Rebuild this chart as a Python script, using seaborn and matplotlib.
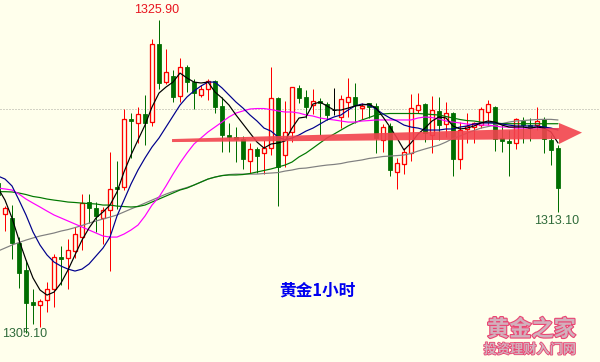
import numpy as np
import pandas as pd
import matplotlib
matplotlib.use("Agg")
import matplotlib.pyplot as plt
import matplotlib.patheffects as pe
from matplotlib.patches import Polygon
import seaborn as sns

# ---------------- data ----------------
bar_index = list(range(-1, 80))
opens = [1315.06, 1312.97, 1312.71, 1311.04, 1309.27, 1307.12, 1306.92, 1307.27, 1307.98, 1310.11,
         1310.08, 1310.51, 1311.48, 1313.77, 1313.37, 1312.71, 1313.26, 1314.81, 1314.77, 1319.29,
         1319.07, 1319.63, 1319.09, 1324.30, 1321.77, 1322.17, 1320.86, 1322.79, 1321.80, 1320.91,
         1321.34, 1321.84, 1320.18, 1318.25, 1318.10, 1317.96, 1316.54, 1317.30, 1317.03, 1317.36,
         1320.69, 1316.92, 1318.47, 1321.36, 1320.76, 1320.24, 1320.53, 1320.31, 1319.91, 1319.43,
         1320.46, 1320.76, 1320.03, 1320.36, 1320.21, 1317.92, 1318.85, 1315.81, 1316.31, 1317.07,
         1319.91, 1320.31, 1318.25, 1319.85, 1318.96, 1319.73, 1316.63, 1318.67, 1318.76, 1318.91,
         1319.80, 1320.13, 1318.02, 1317.85, 1317.74, 1319.20, 1318.91, 1318.91, 1319.29, 1317.92,
         1317.36]
closes = [1314.26, 1313.37, 1311.04, 1309.09, 1307.05, 1306.96, 1307.18, 1308.00, 1310.11, 1310.00,
          1310.60, 1311.66, 1313.70, 1313.37, 1312.88, 1313.26, 1314.64, 1314.66, 1319.29, 1319.18,
          1319.63, 1319.07, 1324.30, 1321.69, 1322.42, 1320.80, 1322.79, 1321.80, 1321.02, 1321.29,
          1321.81, 1320.13, 1318.25, 1318.10, 1318.00, 1316.63, 1317.30, 1316.85, 1317.36, 1320.69,
          1316.14, 1318.47, 1321.42, 1320.69, 1320.13, 1320.51, 1320.36, 1319.58, 1319.91, 1320.62,
          1320.76, 1320.24, 1320.18, 1320.13, 1318.05, 1318.76, 1315.89, 1316.37, 1317.14, 1320.03,
          1320.24, 1318.36, 1319.91, 1318.91, 1319.69, 1316.63, 1318.58, 1318.85, 1319.03, 1319.96,
          1320.31, 1317.96, 1317.87, 1317.74, 1319.29, 1318.91, 1318.71, 1319.18, 1317.96, 1317.25,
          1314.74]
highs = [1315.25, 1313.52, 1313.59, 1311.48, 1309.93, 1307.98, 1307.32, 1308.45, 1310.33, 1310.86,
         1311.31, 1312.11, 1314.30, 1314.32, 1313.81, 1313.48, 1317.10, 1316.52, 1319.96, 1319.69,
         1320.13, 1320.91, 1324.62, 1325.90, 1323.95, 1322.57, 1323.35, 1322.91, 1321.97, 1321.58,
         1321.95, 1321.91, 1320.80, 1319.03, 1318.80, 1318.18, 1317.70, 1317.43, 1317.92, 1322.79,
         1320.80, 1320.53, 1321.46, 1321.58, 1321.24, 1321.29, 1320.69, 1320.46, 1321.36, 1320.91,
         1322.02, 1321.69, 1320.40, 1320.40, 1320.36, 1318.98, 1319.03, 1316.70, 1317.40, 1320.98,
         1321.02, 1320.36, 1320.84, 1320.80, 1320.42, 1319.80, 1319.13, 1319.69, 1319.13, 1320.09,
         1320.58, 1320.18, 1318.91, 1318.58, 1319.40, 1319.47, 1319.36, 1320.13, 1319.43, 1318.25,
         1317.58]
lows = [1313.92, 1311.88, 1309.98, 1308.05, 1305.10, 1305.67, 1305.45, 1306.49, 1306.83, 1308.27,
        1307.98, 1310.05, 1310.60, 1312.37, 1311.82, 1311.03, 1309.23, 1313.31, 1314.59, 1316.74,
        1317.74, 1317.58, 1318.87, 1321.29, 1321.64, 1320.46, 1320.46, 1321.13, 1319.96, 1320.76,
        1320.58, 1319.73, 1317.14, 1317.14, 1316.47, 1315.97, 1315.70, 1315.70, 1315.65, 1316.92,
        1313.55, 1316.14, 1317.80, 1320.40, 1319.36, 1319.63, 1318.25, 1319.25, 1319.58, 1318.69,
        1319.47, 1319.03, 1319.29, 1319.36, 1317.07, 1317.14, 1315.55, 1314.64, 1315.67, 1316.52,
        1319.69, 1317.80, 1317.03, 1317.92, 1318.14, 1315.52, 1315.97, 1317.70, 1317.70, 1318.69,
        1318.91, 1317.18, 1317.15, 1315.52, 1317.30, 1317.70, 1317.87, 1318.58, 1317.07, 1316.25,
        1313.10]

ma_black = [1314.72, 1313.92, 1312.73, 1311.26, 1309.93, 1308.74, 1307.94, 1307.60, 1307.80, 1308.40,
            1309.27, 1310.27, 1311.26, 1312.06, 1312.73, 1313.13, 1313.59, 1314.46, 1315.79, 1316.92,
            1317.92, 1318.91, 1320.11, 1321.04, 1321.44, 1321.77, 1322.37, 1322.04, 1321.77, 1321.71,
            1321.77, 1321.11, 1320.71, 1320.24, 1319.58, 1318.98, 1318.38, 1317.78, 1317.38, 1317.65,
            1317.72, 1317.85, 1318.71, 1319.38, 1319.45, 1320.31, 1320.44, 1320.18, 1319.91, 1319.91,
            1320.04, 1320.18, 1320.24, 1320.31, 1320.04, 1319.45, 1318.78, 1318.05, 1317.25, 1317.72,
            1318.31, 1318.71, 1319.18, 1319.45, 1319.38, 1318.85, 1318.65, 1318.71, 1318.85, 1319.05,
            1319.18, 1319.11, 1318.91, 1318.78, 1318.78, 1318.78, 1318.71, 1318.78, 1318.71, 1318.45,
            1317.72]
ma_blue = [1315.52, 1315.32, 1314.86, 1313.92, 1312.93, 1311.80, 1310.93, 1310.27, 1309.80, 1309.53,
           1309.33, 1309.20, 1309.33, 1309.67, 1310.20, 1310.73, 1311.46, 1312.86, 1313.92, 1314.99,
           1315.92, 1316.72, 1317.45, 1318.05, 1318.78, 1319.51, 1320.24, 1320.78, 1321.18, 1321.51,
           1321.77, 1321.77, 1321.38, 1320.91, 1320.44, 1320.04, 1319.58, 1319.18, 1318.71, 1318.51,
           1318.12, 1317.92, 1318.05, 1318.25, 1318.51, 1318.71, 1318.98, 1319.25, 1319.45, 1319.58,
           1319.91, 1320.18, 1320.31, 1320.24, 1319.98, 1319.65, 1319.38, 1319.18, 1318.91, 1318.78,
           1318.71, 1318.58, 1318.58, 1318.58, 1318.65, 1318.65, 1318.78, 1318.85, 1318.98, 1319.05,
           1319.05, 1319.05, 1318.98, 1318.91, 1318.85, 1318.85, 1318.85, 1318.85, 1318.78, 1318.71,
           1318.58]
ma_magenta = [1314.72, 1314.66, 1314.59, 1314.32, 1313.99, 1313.72, 1313.46, 1313.19, 1312.93, 1312.73,
              1312.53, 1312.33, 1312.13, 1311.93, 1311.73, 1311.53, 1311.46, 1311.46, 1311.66, 1311.93,
              1312.26, 1312.86, 1313.59, 1314.12, 1314.86, 1315.65, 1316.39, 1317.05, 1317.65, 1318.05,
              1318.45, 1318.78, 1319.11, 1319.45, 1319.71, 1319.85, 1319.98, 1320.01, 1320.01, 1319.94,
              1319.85, 1319.78, 1319.78, 1319.71, 1319.58, 1319.51, 1319.38, 1319.31, 1319.25, 1319.18,
              1319.11, 1319.11, 1319.18, 1319.21, 1319.25, 1319.25, 1319.25, 1319.25, 1319.25, 1319.25,
              1319.38, 1319.45, 1319.41, 1319.31, 1319.18, 1319.11, 1319.05, 1318.98, 1318.95, 1318.91,
              1318.91, 1318.85, 1318.78, 1318.78, 1318.71, 1318.71, 1318.71, 1318.71, 1318.71, 1318.68,
              1318.65]
ma_green = [1314.48, 1314.48, 1314.46, 1314.39, 1314.29, 1314.16, 1314.09, 1313.99, 1313.92, 1313.86,
            1313.79, 1313.76, 1313.72, 1313.69, 1313.66, 1313.59, 1313.59, 1313.52, 1313.49, 1313.46,
            1313.49, 1313.59, 1313.79, 1313.99, 1314.19, 1314.39, 1314.59, 1314.72, 1314.92, 1315.12,
            1315.32, 1315.45, 1315.55, 1315.59, 1315.59, 1315.62, 1315.69, 1315.79, 1315.89, 1315.99,
            1316.12, 1316.25, 1316.45, 1316.79, 1317.05, 1317.38, 1317.72, 1318.05, 1318.31, 1318.58,
            1318.85, 1319.08, 1319.25, 1319.41, 1319.58, 1319.65, 1319.68, 1319.68, 1319.68, 1319.68,
            1319.68, 1319.65, 1319.61, 1319.58, 1319.48, 1319.38, 1319.28, 1319.21, 1319.18, 1319.11,
            1319.08, 1319.05, 1319.01, 1319.00, 1319.00, 1319.00, 1319.00, 1319.00, 1319.00, 1319.00,
            1319.00]
ma_gray = [1310.53, 1310.73, 1310.93, 1311.10, 1311.26, 1311.40, 1311.53, 1311.63, 1311.73, 1311.86,
           1311.96, 1312.09, 1312.23, 1312.39, 1312.53, 1312.66, 1312.79, 1312.93, 1313.13, 1313.33,
           1313.52, 1313.72, 1313.92, 1314.12, 1314.32, 1314.49, 1314.62, 1314.76, 1314.92, 1315.12,
           1315.32, 1315.45, 1315.55, 1315.62, 1315.65, 1315.65, 1315.65, 1315.65, 1315.69, 1315.72,
           1315.75, 1315.85, 1315.92, 1316.02, 1316.05, 1316.12, 1316.19, 1316.25, 1316.29, 1316.35,
           1316.45, 1316.52, 1316.59, 1316.69, 1316.75, 1316.82, 1316.85, 1316.88, 1316.92, 1317.02,
           1317.18, 1317.32, 1317.45, 1317.58, 1317.78, 1318.02, 1318.18, 1318.38, 1318.55, 1318.71,
           1318.81, 1318.91, 1319.01, 1319.11, 1319.18, 1319.21, 1319.25, 1319.28, 1319.29, 1319.29,
           1319.25]

ref_level = 1320.0
label_high = "1325.90"
label_low = "1305.10"
label_last_low = "1313.10"
title_text = "黄金1小时"
wm_main = "黄金之家"
wm_sub = "投资理财入门网"

# arrow (bar index, price)
arrow_tail = (23.86, 1317.88)
arrow_base = (79.14, 1318.35)
arrow_tip = (82.43, 1318.41)
arrow_tail_half, arrow_shaft_half, arrow_head_half = 0.10, 0.37, 0.70

# ---------------- styling ----------------
BG = "#FFFFEC"
UP = "#FF0000"
DOWN = "#006E00"

sns.set_theme(style="white")
plt.rcParams["font.family"] = ["Noto Sans CJK SC", "DejaVu Sans"]

W, H = 600, 362
fig = plt.figure(figsize=(W / 100, H / 100), dpi=100, facecolor=BG)
ax = fig.add_axes([0, 0, 1, 1])
ax.set_facecolor(BG)
ax.set_xlim(-5 / 7, 595 / 7)
ax.set_ylim(1303.15, 1327.23)
ax.set_axis_off()

df = pd.DataFrame(dict(idx=bar_index, open=opens, high=highs, low=lows, close=closes))
up = df["close"] > df["open"]
down = df["close"] < df["open"]
flat = df["close"] == df["open"]

px = 0.72  # one pixel in points
ax.axhline(ref_level, color="#A8A8A0", lw=px, ls=(0, (1, 2)), zorder=0)

wick_colors = np.where(up, UP, np.where(down, DOWN, "#000000"))
ax.vlines(df["idx"], df["low"], df["high"], colors=wick_colors, lw=px, zorder=1)

bw = 0.70
body_lo = np.minimum(df["open"], df["close"])
body_h = np.abs(df["close"] - df["open"])
ax.bar(df.loc[up, "idx"], body_h[up], bottom=body_lo[up], width=bw,
       facecolor=BG, edgecolor=UP, linewidth=px * 1.3, zorder=2)
ax.bar(df.loc[down, "idx"], body_h[down], bottom=body_lo[down], width=bw,
       facecolor=DOWN, edgecolor=DOWN, linewidth=px * 0.8, zorder=2)
ax.hlines(df.loc[flat, "close"], df.loc[flat, "idx"] - bw / 2, df.loc[flat, "idx"] + bw / 2,
          colors="#000000", lw=px, zorder=2)

ma_df = pd.concat([
    pd.DataFrame(dict(idx=bar_index, value=ma_gray, ma="gray")),
    pd.DataFrame(dict(idx=bar_index, value=ma_green, ma="green")),
    pd.DataFrame(dict(idx=bar_index, value=ma_magenta, ma="magenta")),
    pd.DataFrame(dict(idx=bar_index, value=ma_blue, ma="blue")),
    pd.DataFrame(dict(idx=bar_index, value=ma_black, ma="black")),
])
palette = {"gray": "#808080", "green": "#007800", "magenta": "#FF00FF",
           "blue": "#00008C", "black": "#000000"}
sns.lineplot(data=ma_df, x="idx", y="value", hue="ma", palette=palette,
             legend=False, lw=px * 1.2, ax=ax, zorder=3, sort=False, estimator=None)

# big red arrow
tx, ty = arrow_tail
bx, by = arrow_base
kx, ky = arrow_tip
verts = [(tx, ty + arrow_tail_half), (bx, by + arrow_shaft_half), (bx, by + arrow_head_half),
         (kx, ky), (bx, by - arrow_head_half), (bx, by - arrow_shaft_half),
         (tx, ty - arrow_tail_half)]
ax.add_patch(Polygon(verts, closed=True, facecolor="#F2434E", edgecolor="none",
                     alpha=0.9, zorder=5))

# price labels
num_font = dict(family=["Liberation Sans", "DejaVu Sans"], fontsize=9)
i_hi = int(np.argmax(highs))
ax.annotate(label_high, xy=(bar_index[i_hi], highs[i_hi]), xytext=(-1.5, 3),
            textcoords="offset points", ha="center", va="bottom", color="#E8141E", **num_font)
ax.annotate(label_low, xy=(0, 0), xycoords="axes fraction", xytext=(1.3, 16),
            textcoords="offset points", ha="left", va="bottom", color="#2F6B3A", **num_font)
ax.annotate(label_last_low, xy=(bar_index[-1], lows[-1]), xytext=(-1.3, -2.2),
            textcoords="offset points", ha="center", va="top", color="#2F6B3A", **num_font)

fig.text(317 / W, 1 - 290.5 / H, title_text, ha="center", va="center", color="#0000F0",
         fontsize=12, fontweight="bold")

fig.text(531.5 / W, 1 - 329.5 / H, wm_main, ha="center", va="center", color="#D2B0BC",
         fontsize=16, fontweight="bold",
         path_effects=[pe.withStroke(linewidth=1.6, foreground="#EA4673")])
fig.text(530 / W, 1 - 349.5 / H, wm_sub, ha="center", va="center", color="#D2B0BC",
         fontsize=9.5, fontweight="bold",
         path_effects=[pe.withStroke(linewidth=1.2, foreground="#EA4673")])

fig.savefig("out.png", dpi=100, facecolor=BG)
